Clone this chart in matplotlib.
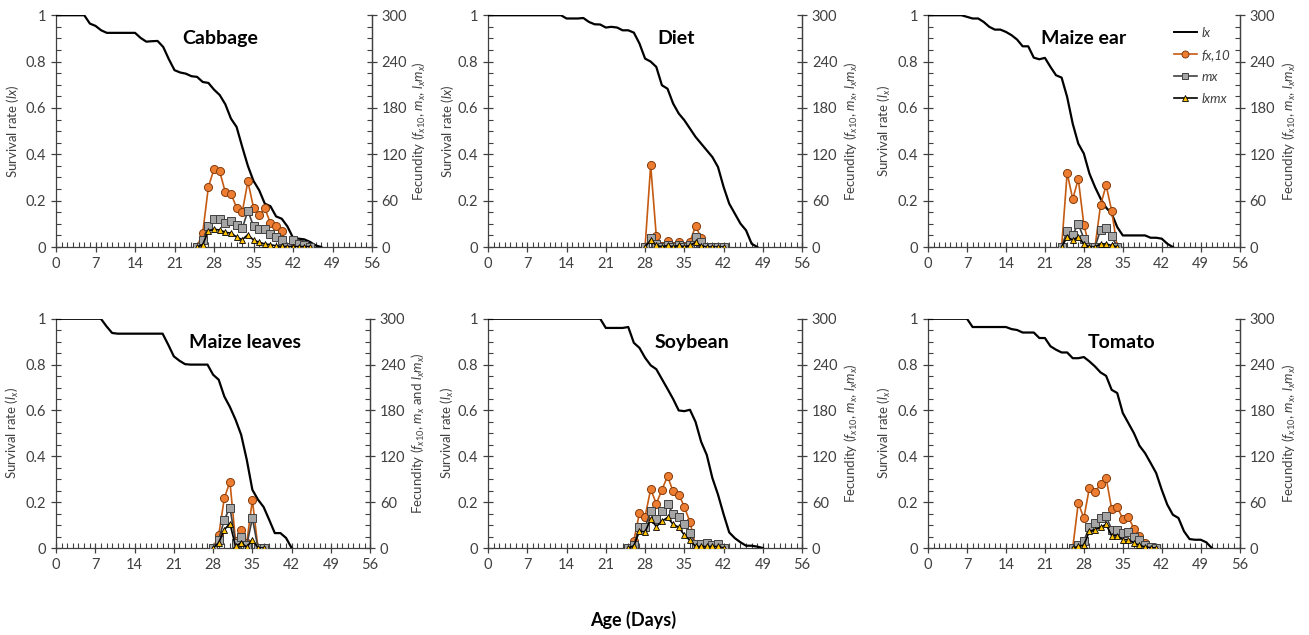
import numpy as np
import matplotlib
matplotlib.use("Agg")
import matplotlib.pyplot as plt
from matplotlib.ticker import MultipleLocator, FuncFormatter
from matplotlib.lines import Line2D

plt.rcParams['font.family'] = ['Lato', 'DejaVu Sans']
plt.rcParams['mathtext.fontset'] = 'custom'
plt.rcParams['mathtext.rm'] = 'Lato'
plt.rcParams['mathtext.it'] = 'Lato:italic'
plt.rcParams['mathtext.bf'] = 'Lato:bold'

# ---- data: lx per day from day 0, fecundity series from a start day ----
hosts = ['Cabbage', 'Diet', 'Maize ear', 'Maize leaves', 'Soybean', 'Tomato']

cabbage_lx = [1, 1, 1, 1, 1, 1, 0.964, 0.954, 0.935, 0.924, 0.924, 0.924, 0.924, 0.924, 0.924,
              0.902, 0.886, 0.888, 0.889, 0.863, 0.81, 0.763, 0.753, 0.748, 0.737, 0.734, 0.712,
              0.708, 0.679, 0.656, 0.616, 0.554, 0.518, 0.432, 0.35, 0.285, 0.245, 0.187, 0.176,
              0.132, 0.122, 0.089, 0.04, 0.036, 0.033, 0.022, 0.007, 0]
cabbage_start = 25
cabbage_fx10 = [0, 18.6, 77.7, 101, 98, 71, 69, 51, 45, 85, 51, 41, 50, 31, 27, 21, 0, 0, 0, 0, 0]
cabbage_mx = [0, 9, 27, 36, 36, 31, 34, 28, 24, 47, 27, 23, 23, 17, 13, 9, 0, 9, 4, 2, 0]
cabbage_lxmx = [0, 3, 21, 23, 22, 19, 18, 13, 9.5, 16, 9, 6, 4, 3, 1.5, 1, 0.5, 0.5, 0.5, 0.5, 0.5]

diet_lx = [1, 1, 1, 1, 1, 1, 1, 1, 1, 1, 1, 1, 1, 1, 0.986, 0.986, 0.986, 0.988, 0.971, 0.961,
           0.96, 0.947, 0.95, 0.947, 0.935, 0.935, 0.925, 0.878, 0.813, 0.8, 0.777, 0.698, 0.683,
           0.619, 0.576, 0.547, 0.511, 0.475, 0.446, 0.417, 0.388, 0.345, 0.259, 0.187, 0.144,
           0.101, 0.072, 0.014, 0]
diet_start = 28
diet_fx10 = [0, 106, 14, 1, 8, 1, 7, 1, 7, 27, 12, 0, 0, 0, 0]
diet_mx = [0, 12, 4, 0.5, 3, 0.5, 3, 0.5, 3, 13, 6, 0, 0, 0, 0]
diet_lxmx = [0, 9, 2, 0.3, 2, 0.3, 2, 0.3, 2, 6, 1.5, 0, 0, 0, 0]

maize_ear_lx = [1, 1, 1, 1, 1, 1, 1, 0.993, 0.986, 0.986, 0.971, 0.95, 0.938, 0.938, 0.928,
                0.914, 0.895, 0.866, 0.866, 0.817, 0.81, 0.816, 0.777, 0.741, 0.731, 0.647,
                0.532, 0.446, 0.403, 0.317, 0.259, 0.209, 0.17, 0.144, 0.086, 0.05, 0.05, 0.05,
                0.05, 0.05, 0.04, 0.04, 0.036, 0.014, 0]
maize_ear_start = 24
maize_ear_fx10 = [0, 96, 62, 88, 29, 0, 0, 54, 80, 47, 0]
maize_ear_mx = [0, 21, 16, 30, 11, 0, 0, 22, 25, 14, 0]
maize_ear_lxmx = [0, 13, 9, 13, 4, 0, 0, 4, 4, 2, 0]

maize_leaves_lx = [1, 1, 1, 1, 1, 1, 1, 1, 1, 0.967, 0.938, 0.935, 0.935, 0.935, 0.935, 0.935,
                   0.935, 0.935, 0.935, 0.935, 0.887, 0.836, 0.817, 0.802, 0.8, 0.8, 0.8, 0.8,
                   0.756, 0.734, 0.661, 0.615, 0.56, 0.494, 0.385, 0.254, 0.211, 0.179, 0.123,
                   0.065, 0.065, 0.044, 0]
maize_leaves_start = 28
maize_leaves_fx10 = [0, 17, 65, 87, 9, 24, 7, 63, 0, 0]
maize_leaves_mx = [0, 11, 37, 53, 7, 15, 4, 39, 0, 0]
maize_leaves_lxmx = [0, 7, 24, 32, 2, 7, 1, 11, 0, 0]

soybean_lx = [1, 1, 1, 1, 1, 1, 1, 1, 1, 1, 1, 1, 1, 1, 1, 1, 1, 1, 1, 1, 1, 0.96, 0.96, 0.96,
              0.96, 0.964, 0.895, 0.873, 0.83, 0.797, 0.78, 0.737, 0.694, 0.65, 0.6, 0.597,
              0.603, 0.55, 0.463, 0.406, 0.305, 0.233, 0.147, 0.068, 0.043, 0.025, 0.01, 0.01,
              0.006, 0]
soybean_start = 25
soybean_fx10 = [0, 9.5, 46, 41, 77, 58, 76, 94, 74, 70, 54, 34, 3, 3, 3, 2, 3, 0]
soybean_mx = [0, 4, 27, 27, 48, 38, 48, 57, 45, 40, 31, 20, 5, 5, 6, 4, 5, 0]
soybean_lxmx = [0, 3, 22, 21, 38, 28, 35, 40, 31, 27, 17, 10, 2, 2, 2, 2, 2, 0]

tomato_lx = [1, 1, 1, 1, 1, 1, 1, 1, 0.964, 0.964, 0.964, 0.964, 0.964, 0.964, 0.964, 0.955,
             0.951, 0.94, 0.94, 0.94, 0.916, 0.916, 0.88, 0.865, 0.853, 0.853, 0.828, 0.828,
             0.833, 0.814, 0.792, 0.766, 0.751, 0.69, 0.676, 0.589, 0.545, 0.501, 0.446, 0.414,
             0.371, 0.327, 0.254, 0.189, 0.145, 0.131, 0.073, 0.039, 0.036, 0.036, 0.025, 0]
tomato_start = 26
tomato_fx10 = [0, 59, 39, 79, 73, 84, 92, 51, 54, 38, 41, 25, 16, 7, 0, 0]
tomato_mx = [0, 4, 9, 28, 33, 39, 42, 24, 24, 20, 21, 15, 11, 4, 1, 0]
tomato_lxmx = [0, 2, 4, 22, 24, 27, 31, 16, 16, 11, 11, 6.5, 3.5, 1.3, 0.5, 0]

panel_lx = [cabbage_lx, diet_lx, maize_ear_lx, maize_leaves_lx, soybean_lx, tomato_lx]
panel_start = [cabbage_start, diet_start, maize_ear_start, maize_leaves_start, soybean_start, tomato_start]
panel_fx10 = [cabbage_fx10, diet_fx10, maize_ear_fx10, maize_leaves_fx10, soybean_fx10, tomato_fx10]
panel_mx = [cabbage_mx, diet_mx, maize_ear_mx, maize_leaves_mx, soybean_mx, tomato_mx]
panel_lxmx = [cabbage_lxmx, diet_lxmx, maize_ear_lxmx, maize_leaves_lxmx, soybean_lxmx, tomato_lxmx]

# ---- layout / text ----
positions = [(0.0428, 0.611, 0.2414, 0.365), (0.3728, 0.611, 0.240, 0.365), (0.709, 0.611, 0.238, 0.365),
             (0.0428, 0.137, 0.2400, 0.361), (0.3728, 0.137, 0.240, 0.361), (0.709, 0.137, 0.238, 0.361)]
title_xy = [(0.52, 0.90), (0.60, 0.90), (0.50, 0.90), (0.60, 0.895), (0.65, 0.895), (0.62, 0.895)]
# y-label anchor positions (axes fraction): left, right
label_x = [(-0.111, 1.123), (-0.102, 1.131), (-0.112, 1.131),
           (-0.111, 1.126), (-0.102, 1.129), (-0.112, 1.131)]
left_labels = [r'Survival rate ($\it{lx}$)', r'Survival rate ($\it{lx}$)'] + [r'Survival rate ($l_x$)'] * 4
fec = r'Fecundity ($f_{x10}$, $m_x$, $l_xm_x$)'
right_labels = [fec, fec, fec, r'Fecundity ($f_{x10}$, $m_x$ and $l_xm_x$)', fec, fec]

TICK_COL = '#404040'
FX_LINE, FX_FACE, FX_EDGE = '#C55A11', '#ED7D31', '#843C0C'
MX_LINE, MX_FACE, MX_EDGE = '#404040', '#A5A5A5', '#404040'
LM_LINE, LM_FACE, LM_EDGE = '#000000', '#FFC000', '#000000'


def style_axis(ax):
    ax.spines['top'].set_visible(False)
    for s in ax.spines.values():
        s.set_color('#404040')
        s.set_linewidth(0.9)
    ax.tick_params(axis='both', which='major', direction='inout', length=7, width=0.9,
                   colors='#404040', labelcolor=TICK_COL, labelsize=10.5)
    ax.tick_params(axis='both', which='minor', direction='in', length=3.5, width=0.8, colors='#404040')


fig = plt.figure(figsize=(13.09, 6.35), dpi=100)

for i in range(6):
    ax = fig.add_axes(positions[i])
    ax2 = ax.twinx()

    lx = panel_lx[i]
    ax.plot(np.arange(len(lx)), lx, color='black', lw=1.6, zorder=3)

    days = np.arange(panel_start[i], panel_start[i] + len(panel_fx10[i]))
    ax2.plot(days, panel_fx10[i], color=FX_LINE, lw=1.2, marker='o', ms=5.8,
             mfc=FX_FACE, mec=FX_EDGE, mew=0.7, zorder=3)
    ax2.plot(days, panel_mx[i], color=MX_LINE, lw=1.2, marker='s', ms=5.6,
             mfc=MX_FACE, mec=MX_EDGE, mew=0.7, zorder=4)
    ax2.plot(days, panel_lxmx[i], color=LM_LINE, lw=1.2, marker='^', ms=4.6,
             mfc=LM_FACE, mec=LM_EDGE, mew=0.6, zorder=5)

    ax.set_xlim(0, 56)
    ax.set_ylim(0, 1)
    ax2.set_ylim(0, 300)
    ax.xaxis.set_major_locator(MultipleLocator(7))
    ax.xaxis.set_minor_locator(MultipleLocator(1))
    ax.yaxis.set_major_locator(MultipleLocator(0.2))
    ax.yaxis.set_minor_locator(MultipleLocator(0.05))
    ax.yaxis.set_major_formatter(FuncFormatter(lambda v, p: f'{v:g}'))
    ax2.yaxis.set_major_locator(MultipleLocator(60))
    ax2.yaxis.set_minor_locator(MultipleLocator(15))
    style_axis(ax)
    style_axis(ax2)
    ax2.spines['left'].set_visible(False)
    ax2.spines['bottom'].set_visible(False)

    ax.set_ylabel(left_labels[i], fontsize=9.5, color=TICK_COL)
    ax2.set_ylabel(right_labels[i], fontsize=9.5, color=TICK_COL)
    ax.yaxis.set_label_coords(label_x[i][0], 0.5)
    ax2.yaxis.set_label_coords(label_x[i][1], 0.5)

    ax.text(title_xy[i][0], title_xy[i][1], hosts[i], transform=ax.transAxes,
            ha='center', va='center', fontsize=14, fontweight='bold', color='black')

    if i == 2:
        handles = [
            Line2D([], [], color='black', lw=1.4),
            Line2D([], [], color=FX_LINE, lw=1.2, marker='o', ms=5, mfc=FX_FACE, mec=FX_EDGE, mew=0.7),
            Line2D([], [], color=MX_LINE, lw=1.2, marker='s', ms=5, mfc=MX_FACE, mec=MX_EDGE, mew=0.7),
            Line2D([], [], color=LM_LINE, lw=1.2, marker='^', ms=4.2, mfc=LM_FACE, mec=LM_EDGE, mew=0.6),
        ]
        leg = ax2.legend(handles, ['lx', 'fx,10', 'mx', 'lxmx'], loc='upper left',
                         bbox_to_anchor=(0.75, 1.0), frameon=False, handlelength=1.8,
                         handletextpad=0.3, labelspacing=0.75,
                         prop={'size': 9.5, 'style': 'italic'})
        for t in leg.get_texts():
            t.set_color(TICK_COL)

fig.text(0.484, 0.024, 'Age (Days)', ha='center', va='center', fontsize=13,
         fontweight='bold', color='black')

fig.savefig('out.png', dpi=100)
